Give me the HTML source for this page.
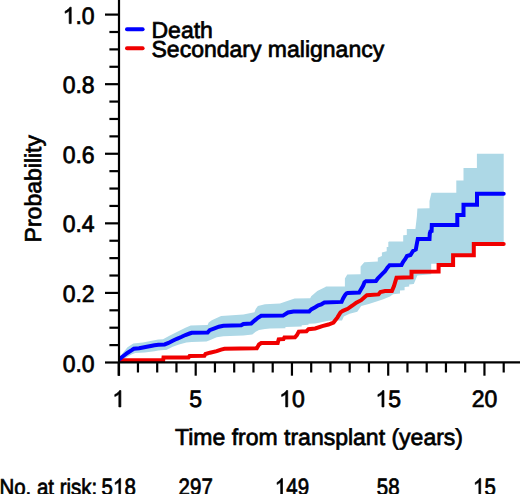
<!DOCTYPE html>
<html><head><meta charset="utf-8"><style>
html,body{margin:0;padding:0;background:#fff;width:520px;height:494px;overflow:hidden}
svg{display:block}
text{text-rendering:geometricPrecision;font-family:"Liberation Sans",sans-serif;font-size:23px;fill:#000;stroke:#000;stroke-width:0.7px}
.b{font-size:20.5px}
</style></head><body>
<svg width="520" height="494" viewBox="0 0 520 494">
<polygon points="119.0,359.5 122.0,354.0 127.5,347.3 133.3,343.5 142.9,342.5 150.6,341.1 158.3,339.6 163.0,339.2 168.5,336.2 176.9,331.9 185.4,327.7 190.7,325.4 207.6,325.0 208.7,322.4 211.8,320.3 215.6,318.4 221.1,316.1 243.4,314.5 254.5,312.2 255.7,308.9 257.9,306.1 265.0,304.3 280.0,303.6 286.5,301.3 294.6,298.5 310.2,298.2 311.2,296.2 317.3,291.1 325.4,287.1 326.0,286.6 344.9,286.6 344.9,278.6 347.3,274.6 360.6,274.3 360.6,266.4 364.3,262.2 377.8,261.5 377.8,257.7 381.9,256.0 381.9,252.4 386.7,251.2 386.7,247.1 388.3,247.0 388.3,241.9 389.1,241.5 403.2,241.5 403.2,235.2 406.8,235.0 406.8,229.1 415.4,228.9 416.2,222.3 416.9,216.3 417.4,208.5 429.5,208.3 429.5,201.1 431.5,192.7 456.3,192.7 456.3,180.5 463.5,180.5 463.5,167.9 476.9,167.9 476.9,153.8 503.7,153.8 503.7,244.0 473.8,244.0 473.8,255.2 453.1,255.2 453.1,265.0 438.6,265.0 437.0,263.8 431.2,263.8 431.2,274.2 417.3,275.4 413.8,284.0 409.2,284.6 409.2,286.5 404.6,286.9 404.6,290.2 400.0,290.4 400.0,293.5 393.0,294.2 390.0,296.5 383.3,299.2 376.5,301.6 368.8,304.0 361.2,306.0 357.3,311.7 349.6,313.7 343.8,316.5 342.0,320.4 333.5,320.5 328.4,320.8 320.3,322.5 315.2,323.5 308.5,323.7 308.5,324.8 301.7,325.2 301.7,326.5 285.4,327.0 285.4,328.3 270.0,328.5 265.0,329.0 259.0,330.1 255.7,331.7 252.3,334.5 243.4,335.6 223.4,336.2 216.7,337.3 209.7,340.3 206.5,341.4 191.7,342.0 186.4,342.5 179.0,344.6 172.7,346.7 166.3,349.9 164.0,350.0 158.3,350.4 154.5,351.2 144.8,352.6 135.2,353.1 131.4,354.5 125.6,357.9 119.0,360.0" fill="#add8e6"/>
<polyline points="120.2,360.2 163.2,360.2 163.5,357.6 188.5,357.6 189.6,356.0 204.4,355.8 205.5,354.0 210.0,352.7 216.7,351.2 221.1,349.6 224.5,348.8 256.8,348.2 259.0,344.5 261.2,343.0 277.7,343.0 278.7,339.3 283.5,339.0 284.4,337.4 295.0,337.3 296.9,335.2 298.8,331.6 306.5,331.2 308.5,329.2 315.2,328.5 322.3,326.1 328.4,324.5 333.5,322.5 337.5,317.4 340.5,312.4 342.9,310.8 347.7,308.8 352.5,305.5 356.3,302.6 361.2,300.2 365.0,296.8 366.9,295.2 378.5,294.4 380.4,292.0 385.0,291.0 391.9,291.0 394.0,286.0 396.5,277.7 411.5,277.3 411.5,271.7 438.6,271.6 438.6,265.0 453.1,265.0 453.1,255.2 473.8,255.2 473.8,244.0 503.7,244.0" fill="none" stroke="#f00000" stroke-width="4" stroke-linejoin="miter" stroke-linecap="round"/>
<polyline points="120.2,358.6 120.8,357.9 124.0,355.5 127.7,352.7 131.4,350.4 133.8,348.8 139.1,348.3 143.0,347.5 146.8,346.8 150.8,346.0 154.5,345.3 158.5,344.8 164.6,344.4 168.5,343.0 172.7,340.8 176.9,338.8 181.2,337.0 185.4,335.0 189.6,333.5 191.7,332.8 207.6,332.6 209.7,330.2 214.5,328.4 218.9,326.7 223.4,325.8 241.2,325.3 243.4,324.0 251.2,323.6 254.5,320.6 257.9,317.8 261.2,315.8 283.0,315.6 288.0,312.5 293.5,311.5 309.2,311.4 311.2,309.4 315.2,307.3 318.3,305.3 321.3,304.3 324.4,302.6 341.6,301.9 343.1,298.5 345.0,295.2 346.5,293.5 347.7,293.0 359.2,292.5 361.2,289.1 363.1,285.8 364.5,282.2 366.0,281.2 376.0,281.0 377.7,278.6 381.3,274.9 385.0,271.3 387.4,267.7 389.6,265.2 401.5,265.0 403.0,262.0 405.3,259.0 407.0,256.0 410.5,255.0 413.0,251.0 415.8,249.5 417.0,243.0 417.8,239.0 429.5,239.0 429.8,233.5 430.5,231.4 431.6,231.0 431.8,224.9 457.3,224.9 457.3,215.0 463.5,215.0 463.5,204.8 477.0,204.8 477.0,193.8 503.7,193.8" fill="none" stroke="#00f" stroke-width="4" stroke-linejoin="miter" stroke-linecap="round"/>
<line x1="119" y1="0" x2="119" y2="375.7" stroke="#000" stroke-width="2.2"/>
<line x1="118" y1="362.4" x2="520" y2="362.4" stroke="#000" stroke-width="2.2"/>
<line x1="105" y1="362.50" x2="119" y2="362.50" stroke="#000" stroke-width="2.2"/>
<line x1="109.4" y1="345.11" x2="119" y2="345.11" stroke="#000" stroke-width="2.2"/>
<line x1="109.4" y1="327.71" x2="119" y2="327.71" stroke="#000" stroke-width="2.2"/>
<line x1="109.4" y1="310.31" x2="119" y2="310.31" stroke="#000" stroke-width="2.2"/>
<line x1="105" y1="292.92" x2="119" y2="292.92" stroke="#000" stroke-width="2.2"/>
<line x1="109.4" y1="275.52" x2="119" y2="275.52" stroke="#000" stroke-width="2.2"/>
<line x1="109.4" y1="258.13" x2="119" y2="258.13" stroke="#000" stroke-width="2.2"/>
<line x1="109.4" y1="240.74" x2="119" y2="240.74" stroke="#000" stroke-width="2.2"/>
<line x1="105" y1="223.34" x2="119" y2="223.34" stroke="#000" stroke-width="2.2"/>
<line x1="109.4" y1="205.94" x2="119" y2="205.94" stroke="#000" stroke-width="2.2"/>
<line x1="109.4" y1="188.55" x2="119" y2="188.55" stroke="#000" stroke-width="2.2"/>
<line x1="109.4" y1="171.16" x2="119" y2="171.16" stroke="#000" stroke-width="2.2"/>
<line x1="105" y1="153.76" x2="119" y2="153.76" stroke="#000" stroke-width="2.2"/>
<line x1="109.4" y1="136.37" x2="119" y2="136.37" stroke="#000" stroke-width="2.2"/>
<line x1="109.4" y1="118.97" x2="119" y2="118.97" stroke="#000" stroke-width="2.2"/>
<line x1="109.4" y1="101.58" x2="119" y2="101.58" stroke="#000" stroke-width="2.2"/>
<line x1="105" y1="84.18" x2="119" y2="84.18" stroke="#000" stroke-width="2.2"/>
<line x1="109.4" y1="66.78" x2="119" y2="66.78" stroke="#000" stroke-width="2.2"/>
<line x1="109.4" y1="49.39" x2="119" y2="49.39" stroke="#000" stroke-width="2.2"/>
<line x1="109.4" y1="32.00" x2="119" y2="32.00" stroke="#000" stroke-width="2.2"/>
<line x1="105" y1="14.60" x2="119" y2="14.60" stroke="#000" stroke-width="2.2"/>
<line x1="118.70" y1="362" x2="118.70" y2="375.7" stroke="#000" stroke-width="2.2"/>
<line x1="137.95" y1="362" x2="137.95" y2="372.5" stroke="#000" stroke-width="2.2"/>
<line x1="157.20" y1="362" x2="157.20" y2="372.5" stroke="#000" stroke-width="2.2"/>
<line x1="176.45" y1="362" x2="176.45" y2="372.5" stroke="#000" stroke-width="2.2"/>
<line x1="195.70" y1="362" x2="195.70" y2="375.7" stroke="#000" stroke-width="2.2"/>
<line x1="214.95" y1="362" x2="214.95" y2="372.5" stroke="#000" stroke-width="2.2"/>
<line x1="234.20" y1="362" x2="234.20" y2="372.5" stroke="#000" stroke-width="2.2"/>
<line x1="253.45" y1="362" x2="253.45" y2="372.5" stroke="#000" stroke-width="2.2"/>
<line x1="272.70" y1="362" x2="272.70" y2="372.5" stroke="#000" stroke-width="2.2"/>
<line x1="291.95" y1="362" x2="291.95" y2="375.7" stroke="#000" stroke-width="2.2"/>
<line x1="311.20" y1="362" x2="311.20" y2="372.5" stroke="#000" stroke-width="2.2"/>
<line x1="330.45" y1="362" x2="330.45" y2="372.5" stroke="#000" stroke-width="2.2"/>
<line x1="349.70" y1="362" x2="349.70" y2="372.5" stroke="#000" stroke-width="2.2"/>
<line x1="368.95" y1="362" x2="368.95" y2="372.5" stroke="#000" stroke-width="2.2"/>
<line x1="388.20" y1="362" x2="388.20" y2="375.7" stroke="#000" stroke-width="2.2"/>
<line x1="407.45" y1="362" x2="407.45" y2="372.5" stroke="#000" stroke-width="2.2"/>
<line x1="426.70" y1="362" x2="426.70" y2="372.5" stroke="#000" stroke-width="2.2"/>
<line x1="445.95" y1="362" x2="445.95" y2="372.5" stroke="#000" stroke-width="2.2"/>
<line x1="465.20" y1="362" x2="465.20" y2="372.5" stroke="#000" stroke-width="2.2"/>
<line x1="484.45" y1="362" x2="484.45" y2="375.7" stroke="#000" stroke-width="2.2"/>
<line x1="503.70" y1="362" x2="503.70" y2="372.5" stroke="#000" stroke-width="2.2"/>
<g transform="translate(94.60,371.50) scale(1.0,1.035)"><text x="-31.97" y="0" style="font-size:23px">0.0</text></g>
<g transform="translate(94.60,301.92) scale(1.0,1.035)"><text x="-31.97" y="0" style="font-size:23px">0.2</text></g>
<g transform="translate(94.60,232.34) scale(1.0,1.035)"><text x="-31.97" y="0" style="font-size:23px">0.4</text></g>
<g transform="translate(94.60,162.76) scale(1.0,1.035)"><text x="-31.97" y="0" style="font-size:23px">0.6</text></g>
<g transform="translate(94.60,93.18) scale(1.0,1.035)"><text x="-31.97" y="0" style="font-size:23px">0.8</text></g>
<g transform="translate(94.60,23.60) scale(1.0,1.035)"><text x="-31.97" y="0" style="font-size:23px"> .0</text><path d="M763,0 L583,0 L583,1102 Q518,1043 412.5,983 Q307,923 223,894 L223,1061 Q374,1129 487,1226 Q600,1323 646,1409 L763,1409 Z" transform="translate(-31.97,0) scale(0.011230,-0.011230)" fill="#000" stroke="#000" stroke-width="0.7" vector-effect="non-scaling-stroke"/></g>
<g transform="translate(118.70,406.90) scale(1.0,1.035)"><text x="-6.40" y="0" style="font-size:23px"> </text><path d="M763,0 L583,0 L583,1102 Q518,1043 412.5,983 Q307,923 223,894 L223,1061 Q374,1129 487,1226 Q600,1323 646,1409 L763,1409 Z" transform="translate(-6.40,0) scale(0.011230,-0.011230)" fill="#000" stroke="#000" stroke-width="0.7" vector-effect="non-scaling-stroke"/></g>
<g transform="translate(195.70,406.90) scale(1.0,1.035)"><text x="-6.40" y="0" style="font-size:23px">5</text></g>
<g transform="translate(291.95,406.90) scale(1.0,1.035)"><text x="-12.79" y="0" style="font-size:23px"> 0</text><path d="M763,0 L583,0 L583,1102 Q518,1043 412.5,983 Q307,923 223,894 L223,1061 Q374,1129 487,1226 Q600,1323 646,1409 L763,1409 Z" transform="translate(-12.79,0) scale(0.011230,-0.011230)" fill="#000" stroke="#000" stroke-width="0.7" vector-effect="non-scaling-stroke"/></g>
<g transform="translate(388.20,406.90) scale(1.0,1.035)"><text x="-12.79" y="0" style="font-size:23px"> 5</text><path d="M763,0 L583,0 L583,1102 Q518,1043 412.5,983 Q307,923 223,894 L223,1061 Q374,1129 487,1226 Q600,1323 646,1409 L763,1409 Z" transform="translate(-12.79,0) scale(0.011230,-0.011230)" fill="#000" stroke="#000" stroke-width="0.7" vector-effect="non-scaling-stroke"/></g>
<g transform="translate(484.45,406.90) scale(1.0,1.035)"><text x="-12.79" y="0" style="font-size:23px">20</text></g>
<text transform="translate(40.8,188.7) rotate(-90)" text-anchor="middle">Probability</text>
<text x="319.0" y="444.9" text-anchor="middle">Time from transplant (years)</text>
<text transform="translate(-0.6,494.8) scale(0.89,1)">No. at risk:</text>
<g transform="translate(118.70,494.80) scale(0.89,1.035)"><text x="-19.19" y="0" style="font-size:23px">5 8</text><path d="M763,0 L583,0 L583,1102 Q518,1043 412.5,983 Q307,923 223,894 L223,1061 Q374,1129 487,1226 Q600,1323 646,1409 L763,1409 Z" transform="translate(-6.40,0) scale(0.011230,-0.011230)" fill="#000" stroke="#000" stroke-width="0.7" vector-effect="non-scaling-stroke"/></g>
<g transform="translate(195.70,494.80) scale(0.89,1.035)"><text x="-19.19" y="0" style="font-size:23px">297</text></g>
<g transform="translate(291.95,494.80) scale(0.89,1.035)"><text x="-19.19" y="0" style="font-size:23px"> 49</text><path d="M763,0 L583,0 L583,1102 Q518,1043 412.5,983 Q307,923 223,894 L223,1061 Q374,1129 487,1226 Q600,1323 646,1409 L763,1409 Z" transform="translate(-19.19,0) scale(0.011230,-0.011230)" fill="#000" stroke="#000" stroke-width="0.7" vector-effect="non-scaling-stroke"/></g>
<g transform="translate(388.20,494.80) scale(0.89,1.035)"><text x="-12.79" y="0" style="font-size:23px">58</text></g>
<g transform="translate(484.45,494.80) scale(0.89,1.035)"><text x="-12.79" y="0" style="font-size:23px"> 5</text><path d="M763,0 L583,0 L583,1102 Q518,1043 412.5,983 Q307,923 223,894 L223,1061 Q374,1129 487,1226 Q600,1323 646,1409 L763,1409 Z" transform="translate(-12.79,0) scale(0.011230,-0.011230)" fill="#000" stroke="#000" stroke-width="0.7" vector-effect="non-scaling-stroke"/></g>
<line x1="127" y1="29.2" x2="142.6" y2="29.2" stroke="#00f" stroke-width="4" stroke-linecap="round"/>
<line x1="127" y1="48.2" x2="142.6" y2="48.2" stroke="#f00000" stroke-width="4" stroke-linecap="round"/>
<text x="151.5" y="37.7">Death</text>
<text x="151.5" y="56.7">Secondary malignancy</text>
</svg>
</body></html>
